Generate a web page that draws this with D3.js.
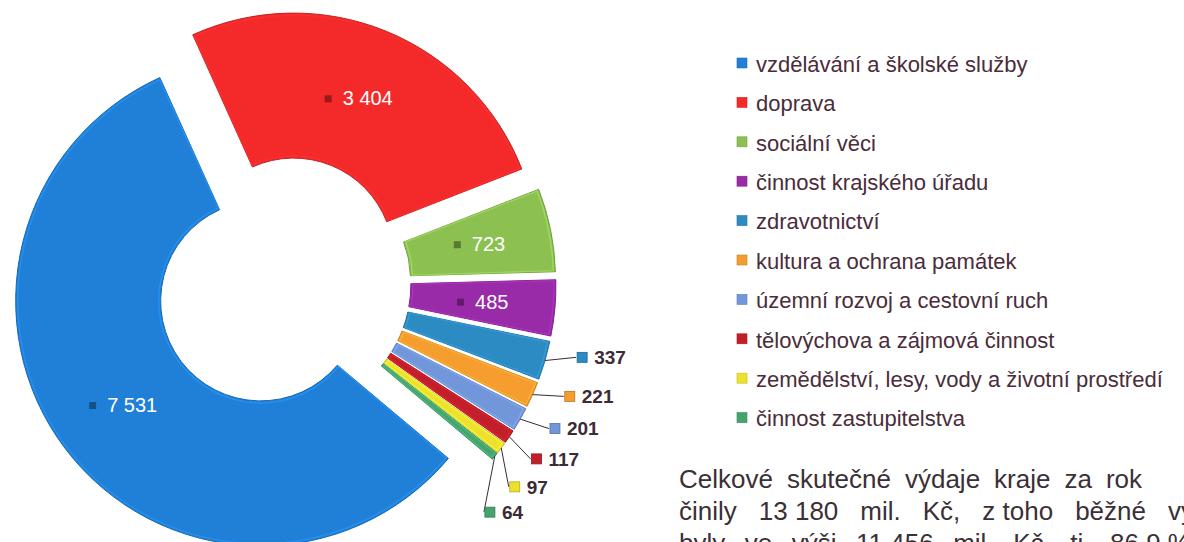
<!DOCTYPE html>
<html>
<head>
<meta charset="utf-8">
<script src="https://cdn.jsdelivr.net/npm/d3@7"></script>
<style>
  body { margin: 0; background: #fff; }
  svg { display: block; }
</style>
</head>
<body>
<svg id="chart" width="1184" height="542"></svg>
<script>
const categories = [
  "vzdělávání a školské služby",
  "doprava",
  "sociální věci",
  "činnost krajského úřadu",
  "zdravotnictví",
  "kultura a ochrana památek",
  "územní rozvoj a cestovní ruch",
  "tělovýchova a zájmová činnost",
  "zemědělství, lesy, vody a životní prostředí",
  "činnost zastupitelstva"
]
const values = [7531, 3404, 723, 485, 337, 221, 201, 117, 97, 64]
const colors = ["#2080d8", "#f42a2a", "#8cc152", "#9a2ba8", "#2c8bc3",
                "#f59d2e", "#7196da", "#c21f2b", "#ece22e", "#45a46e"]
const insideCount = 4  // first slices get their value inside the ring

const paragraph = [
  ["Celkové", "skutečné", "výdaje", "kraje", "za", "rok"],
  ["činily", "13\u00a0180", "mil.", "Kč,", "z\u00a0toho", "běžné", "výdaje"],
  ["byly", "ve", "výši", "11\u00a0456", "mil.", "Kč,", "tj.", "86,9\u00a0%"]
]

const width = 1184
const height = 542
const cx = 283, cy = 284
const innerR = 100, outerR = 245
const explode = 28
const deg = Math.PI / 180

const cz = d3.formatLocale({ decimal: ",", thousands: "\u00a0", grouping: [3], currency: ["", " Kč"] })
const format = cz.format(",d")

const svg = d3.select("#chart")
  .attr("viewBox", [0, 0, width, height])
  .attr("font-family", "'Liberation Sans', Arial, sans-serif")

svg.append("rect").attr("width", width).attr("height", height).attr("fill", "#fff")

const pie = d3.pie().sort(null).startAngle(130 * deg).endAngle(490 * deg)
const arcs = pie(values)
const arc = d3.arc().innerRadius(innerR).outerRadius(outerR)

const midAngle = d => (d.startAngle + d.endAngle) / 2
const shift = d => [explode * Math.sin(midAngle(d)), -explode * Math.cos(midAngle(d))]

const gPie = svg.append("g").attr("transform", `translate(${cx},${cy})`)

const slice = gPie.selectAll("g.slice")
  .data(arcs)
  .join("g")
  .attr("class", "slice")
  .attr("transform", d => `translate(${shift(d)})`)

slice.append("path")
  .attr("d", arc)
  .attr("fill", (d, i) => colors[i])
  .attr("stroke", (d, i) => d3.color(colors[i]).darker(0.6))
  .attr("stroke-width", 1)

// thin lighter rim, a hint of the bevel on the original
const rim = d3.arc().innerRadius(innerR + 2).outerRadius(outerR - 2)
slice.append("path")
  .attr("d", d => rim({ startAngle: d.startAngle + 0.004, endAngle: d.endAngle - 0.004 }))
  .attr("fill", "none")
  .attr("stroke", (d, i) => d3.color(colors[i]).brighter(0.5))
  .attr("stroke-opacity", 0.6)
  .attr("stroke-width", 1.5)

// values inside the big slices
const inside = slice.filter((d, i) => i < insideCount)
  .append("g")
  .attr("transform", d => `translate(${arc.centroid(d)})`)

inside.append("text")
  .attr("dy", "0.35em")
  .attr("fill", "#fff")
  .attr("font-size", 20)
  .text(d => format(d.value))
  .each(function(d) { d.tw = this.getComputedTextLength() })
  .attr("x", d => (18 - d.tw) / 2)

inside.append("rect")
  .attr("width", 7).attr("height", 7)
  .attr("y", -3)
  .attr("x", d => (18 - d.tw) / 2 - 18)
  .attr("fill", (d) => d3.color(colors[d.index]).darker(1.3))

// values outside for the thin slices, spread so they do not overlap
const outside = arcs.slice(insideCount)
let prev = -Infinity
outside.forEach(d => {
  d.labelAngle = Math.max(midAngle(d) - 2.5 * deg, prev + 6.6 * deg)
  prev = d.labelAngle
})
const labelR = 308

const gOut = gPie.selectAll("g.out")
  .data(outside)
  .join("g")
  .attr("class", "out")

gOut.append("polyline")
  .attr("points", d => {
    const [sx, sy] = shift(d)
    const a = midAngle(d)
    const p0 = [sx + outerR * Math.sin(a), sy - outerR * Math.cos(a)]
    const p1 = [labelR * Math.sin(d.labelAngle) - 6, -labelR * Math.cos(d.labelAngle)]
    return [p0, p1]
  })
  .attr("fill", "none")
  .attr("stroke", "#3b2b36")
  .attr("stroke-width", 1)

gOut.append("rect")
  .attr("x", d => labelR * Math.sin(d.labelAngle) - 5)
  .attr("y", d => -labelR * Math.cos(d.labelAngle) - 5)
  .attr("width", 10).attr("height", 10)
  .attr("fill", d => colors[d.index])
  .attr("stroke", d => d3.color(colors[d.index]).darker(0.8))
  .attr("stroke-width", 0.8)

gOut.append("text")
  .attr("x", d => labelR * Math.sin(d.labelAngle) + 12)
  .attr("y", d => -labelR * Math.cos(d.labelAngle))
  .attr("dy", "0.36em")
  .attr("font-size", 19)
  .attr("font-weight", "bold")
  .attr("fill", "#3b2b36")
  .text(d => format(d.value))

// legend
const legendX = 737, legendY = 64, legendStep = 39.4
const legend = svg.append("g")
  .selectAll("g")
  .data(categories)
  .join("g")
  .attr("transform", (d, i) => `translate(${legendX},${legendY + i * legendStep})`)

legend.append("rect")
  .attr("y", -6)
  .attr("width", 10).attr("height", 10)
  .attr("fill", (d, i) => colors[i])
  .attr("stroke", (d, i) => d3.color(colors[i]).darker(0.5))
  .attr("stroke-width", 0.6)

legend.append("text")
  .attr("x", 19)
  .attr("dy", "0.35em")
  .attr("font-size", 22)
  .attr("fill", "#4a2c3b")
  .text(d => d)

// paragraph under the legend, justified word by word
const paraX = 679, paraY = 488, paraLead = 32
const lineFit = [{ end: 1142 }, { lastStart: 1168 }, { lastStart: 1110 }]
const gPara = svg.append("g")
  .attr("font-size", 26)
  .attr("fill", "#3a3035")

paragraph.forEach((words, li) => {
  const texts = words.map(w => gPara.append("text").attr("y", paraY + li * paraLead).text(w))
  const widths = texts.map(t => t.node().getComputedTextLength())
  const fit = lineFit[li]
  const used = fit.end ? d3.sum(widths) : d3.sum(widths.slice(0, -1))
  const gap = ((fit.end || fit.lastStart) - paraX - used) / (words.length - 1)
  let x = paraX
  texts.forEach((t, i) => {
    t.attr("x", x)
    x += widths[i] + gap
  })
})
</script>
</body>
</html>
